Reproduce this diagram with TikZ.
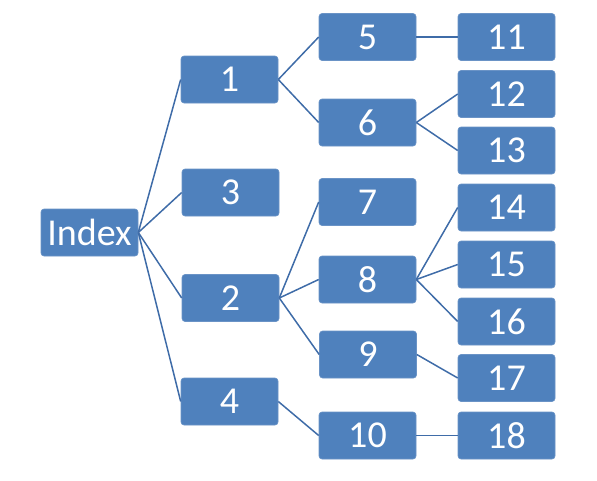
\documentclass[tikz,border=0pt]{standalone}
\usepackage{fontspec}
\setmainfont{Carlito}
\definecolor{boxblue}{HTML}{4F81BD}
\definecolor{edgeblue}{HTML}{6A93C6}
\definecolor{lineblue}{HTML}{3F6CA8}
\begin{document}
\begin{tikzpicture}[x=1pt,y=-1pt,
  bx/.style={draw=edgeblue,line width=0.6pt,fill=boxblue,rounded corners=3pt,
    minimum width=97pt,minimum height=47pt,inner sep=0pt,text=white,
    font=\fontsize{38}{38}\selectfont},
  ln/.style={draw=lineblue,line width=1.5pt}]
\useasboundingbox (0,0) rectangle (597,480);
\node[bx] (I) at (89.5,232.5) {Index};
\node[bx] (n1) at (229.5,79.5) {1};
\node[bx] (n3) at (230.5,192.5) {3};
\node[bx] (n2) at (230.5,298) {2};
\node[bx] (n4) at (229.5,401.5) {4};
\node[bx] (n5) at (367.5,37) {5};
\node[bx] (n6) at (367.5,122.5) {6};
\node[bx] (n7) at (367.5,202) {7};
\node[bx] (n8) at (367.5,279.5) {8};
\node[bx] (n9) at (368,354.5) {9};
\node[bx] (n10) at (367.5,435.5) {10};
\node[bx] (n11) at (506.5,37) {11};
\node[bx] (n12) at (506.5,94) {12};
\node[bx] (n13) at (506.5,150.5) {13};
\node[bx] (n14) at (506.5,207.5) {14};
\node[bx] (n15) at (506.5,264.5) {15};
\node[bx] (n16) at (506.5,321.5) {16};
\node[bx] (n17) at (506.5,378) {17};
\node[bx] (n18) at (506.5,435.5) {18};
\foreach \a/\b in {I/n1,I/n3,I/n2,I/n4,n1/n5,n1/n6,n2/n7,n2/n8,n2/n9,n4/n10,
  n5/n11,n6/n12,n6/n13,n8/n14,n8/n15,n8/n16,n9/n17,n10/n18}
  \draw[ln] (\a.east) -- (\b.west);
\end{tikzpicture}
\end{document}
